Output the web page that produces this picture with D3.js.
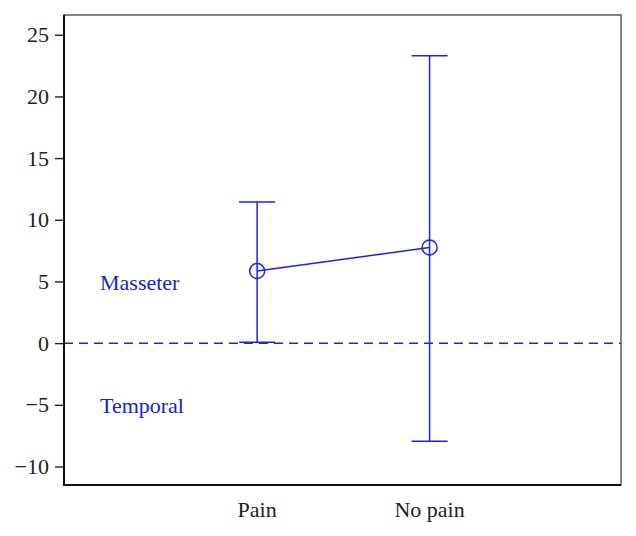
<!DOCTYPE html>
<html>
<head>
<meta charset="utf-8">
<script src="https://cdn.jsdelivr.net/npm/d3@7.9.0/dist/d3.min.js"></script>
<style>
  body { margin: 0; background: #fff; }
  text { font-family: "Liberation Serif", "DejaVu Serif", serif; }
</style>
</head>
<body>
<svg id="chart" width="636" height="536"></svg>
<script>
// data
const groups = ['Pain', 'No pain'];
const means = [5.85, 7.75];
const lower = [0.08, -7.95];
const upper = [11.45, 23.3];
const yTicks = [-10, -5, 0, 5, 10, 15, 20, 25];
const regionLabels = ['Masseter', 'Temporal'];
const regionY = [4.3, -5.7];

const blue = '#1f1fee';
const textBlue = '#2020cc';

const margin = { top: 15, right: 15, bottom: 51, left: 64 };
const width = 636 - margin.left - margin.right;
const height = 536 - margin.top - margin.bottom;

const svg = d3.select('#chart');
const g = svg.append('g').attr('transform', `translate(${margin.left},${margin.top})`);

const x = d3.scaleLinear().domain([-1.12, 2.11]).range([0, width]);
const y = d3.scaleLinear().domain([-11.5, 26.6]).range([height, 0]);

// y axis
const yAxis = g.append('g')
  .call(d3.axisLeft(y).tickValues(yTicks).tickSize(9).tickPadding(6));
yAxis.select('.domain').remove();
yAxis.selectAll('line').attr('stroke', '#222').attr('stroke-width', 1.4);
yAxis.selectAll('text').attr('font-size', 22).attr('fill', '#222');

// x labels
g.selectAll('.xlab')
  .data(groups)
  .join('text')
  .attr('class', 'xlab')
  .attr('x', (d, i) => x(i))
  .attr('y', height + 32)
  .attr('text-anchor', 'middle')
  .attr('font-size', 22)
  .attr('fill', '#222')
  .text(d => d);

// zero reference line
g.append('line')
  .attr('x1', 0).attr('x2', width)
  .attr('y1', y(0)).attr('y2', y(0))
  .attr('stroke', blue)
  .attr('stroke-width', 1.5)
  .attr('stroke-dasharray', '9,6');

// region labels
g.selectAll('.region')
  .data(regionLabels)
  .join('text')
  .attr('class', 'region')
  .attr('x', 36)
  .attr('y', (d, i) => y(regionY[i]))
  .attr('font-size', 22)
  .attr('fill', textBlue)
  .text(d => d);

// error bars
const capW = 18;
groups.forEach((gr, i) => {
  const cx = x(i);
  g.append('line')
    .attr('x1', cx).attr('x2', cx)
    .attr('y1', y(lower[i])).attr('y2', y(upper[i]))
    .attr('stroke', blue).attr('stroke-width', 1.5);
  [lower[i], upper[i]].forEach(v => {
    g.append('line')
      .attr('x1', cx - capW).attr('x2', cx + capW)
      .attr('y1', y(v)).attr('y2', y(v))
      .attr('stroke', blue).attr('stroke-width', 1.5);
  });
});

// mean line and markers
const line = d3.line().x((d, i) => x(i)).y(d => y(d));
g.append('path')
  .attr('d', line(means))
  .attr('fill', 'none')
  .attr('stroke', blue)
  .attr('stroke-width', 1.5);

g.selectAll('.mean')
  .data(means)
  .join('circle')
  .attr('class', 'mean')
  .attr('cx', (d, i) => x(i))
  .attr('cy', d => y(d))
  .attr('r', 7.5)
  .attr('fill', 'none')
  .attr('stroke', blue)
  .attr('stroke-width', 1.5);

// frame
g.append('rect')
  .attr('width', width).attr('height', height)
  .attr('fill', 'none')
  .attr('stroke', '#444')
  .attr('stroke-width', 1.3);
g.append('path')
  .attr('d', `M0,0V${height}H${width}`)
  .attr('fill', 'none')
  .attr('stroke', '#111')
  .attr('stroke-width', 2);
</script>
</body>
</html>
